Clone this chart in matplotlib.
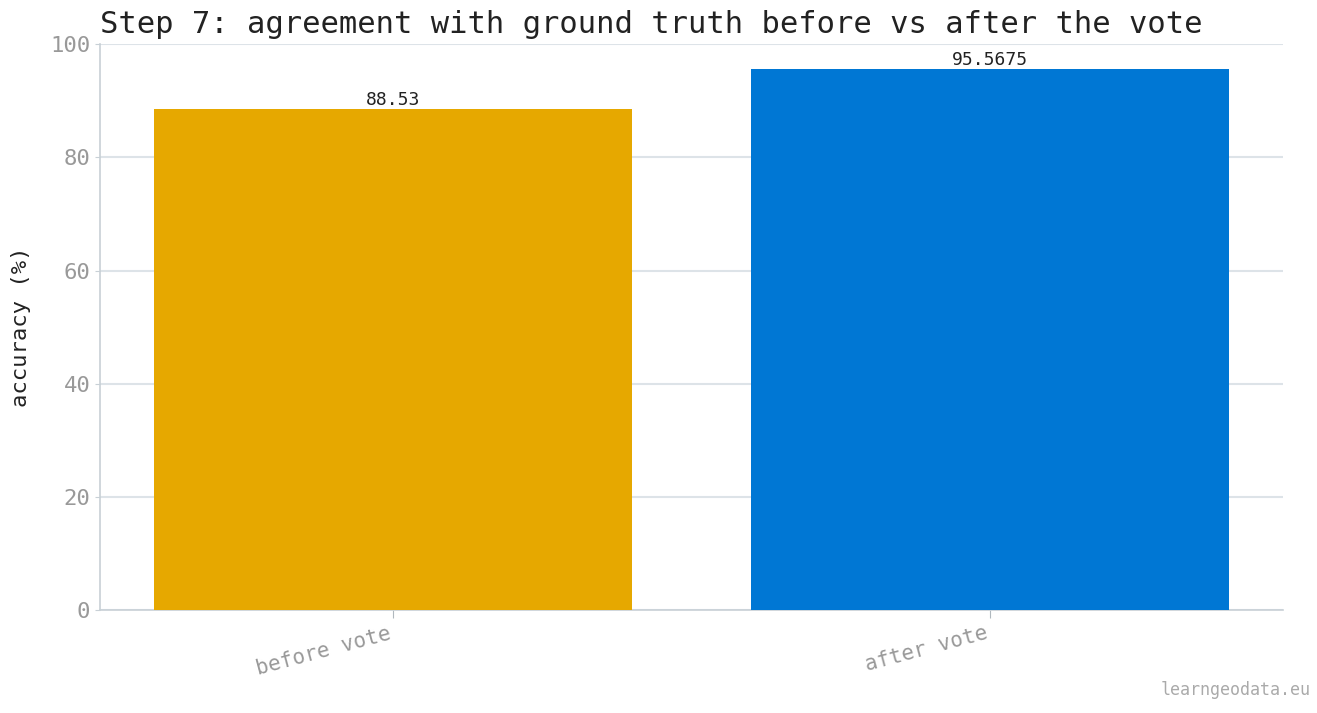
import matplotlib.pyplot as plt

# data
labels = ["before vote", "after vote"]
accuracy = [88.53, 95.5675]
colors = ["#E6A800", "#0077D4"]

plt.rcParams['font.family'] = ['DejaVu Sans Mono']

fig = plt.figure(figsize=(13.17, 7.13), dpi=100)
ax = fig.add_axes([0.076, 0.1445, 0.898, 0.7935])

x = range(len(labels))
bars = ax.bar(x, accuracy, width=0.8, color=colors, zorder=3)
for b, v in zip(bars, accuracy):
    ax.text(b.get_x() + b.get_width() / 2, v, f"{v:g}", ha="center", va="bottom",
            fontsize=13, color="#222222", zorder=4)

ax.set_xlim(-0.49, 1.49)
ax.set_ylim(0, 100)
ax.set_xticks(list(x))
ax.set_xticklabels(labels, rotation=15, ha="right", fontsize=15, color="#999999")
ax.set_yticks(range(0, 101, 20))
ax.tick_params(axis="y", labelsize=16, labelcolor="#999999", color="#c8d0d6")
ax.tick_params(axis="x", color="#b0b8be", length=6)
ax.grid(axis="y", color="#dde3e8", linewidth=1.5, zorder=0)
ax.set_ylabel("accuracy (%)", fontsize=16, color="#222222", labelpad=14)
ax.set_title("Step 7: agreement with ground truth before vs after the vote",
             loc="left", fontsize=22, color="#222222", pad=8)
for s in ["top", "right"]:
    ax.spines[s].set_visible(False)
for s in ["left", "bottom"]:
    ax.spines[s].set_color("#c8d0d6")
    ax.spines[s].set_linewidth(1.2)

fig.text(0.995, 0.02, "learngeodata.eu", ha="right", va="bottom", fontsize=12, color="#aaaaaa")

fig.savefig("out.png", dpi=100)
